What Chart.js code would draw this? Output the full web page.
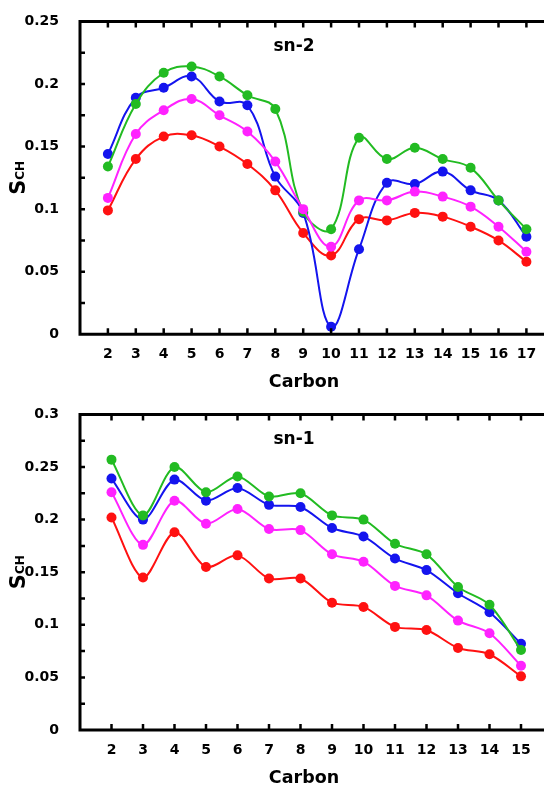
<!DOCTYPE html>
<html>
<head>
<meta charset="utf-8">
<script src="https://cdn.jsdelivr.net/npm/chart.js@4"></script>
<style>
  html, body { margin: 0; padding: 0; background: #fff; overflow: hidden; }
  .wrap { position: absolute; left: 0; width: 544px; overflow: hidden; }
  #top { top: 0; height: 393px; }
  #bottom { top: 393px; height: 394px; }
</style>
</head>
<body>
<div class="wrap" id="top"><canvas id="sn2Chart" width="570" height="393"></canvas></div>
<div class="wrap" id="bottom"><canvas id="sn1Chart" width="570" height="394"></canvas></div>
<script>
// carbon positions
const carbonsSn2 = [2, 3, 4, 5, 6, 7, 8, 9, 10, 11, 12, 13, 14, 15, 16, 17];
const carbonsSn1 = [2, 3, 4, 5, 6, 7, 8, 9, 10, 11, 12, 13, 14, 15];

// order parameters, sn-2 chain
const sn2Green = [0.134, 0.184, 0.209, 0.214, 0.206, 0.191, 0.180, 0.098, 0.084, 0.157, 0.140, 0.149, 0.140, 0.133, 0.107, 0.084];
const sn2Blue = [0.144, 0.189, 0.197, 0.206, 0.186, 0.183, 0.126, 0.097, 0.006, 0.068, 0.121, 0.120, 0.130, 0.115, 0.107, 0.078];
const sn2Magenta = [0.109, 0.160, 0.179, 0.188, 0.175, 0.162, 0.138, 0.100, 0.070, 0.107, 0.107, 0.114, 0.110, 0.102, 0.086, 0.066];
const sn2Red = [0.099, 0.140, 0.158, 0.159, 0.150, 0.136, 0.115, 0.081, 0.063, 0.092, 0.091, 0.097, 0.094, 0.086, 0.075, 0.058];

// order parameters, sn-1 chain
const sn1Green = [0.257, 0.204, 0.250, 0.226, 0.241, 0.222, 0.225, 0.204, 0.200, 0.177, 0.167, 0.136, 0.119, 0.076];
const sn1Blue = [0.239, 0.200, 0.238, 0.218, 0.230, 0.214, 0.212, 0.192, 0.184, 0.163, 0.152, 0.130, 0.112, 0.082];
const sn1Magenta = [0.226, 0.176, 0.218, 0.196, 0.210, 0.191, 0.190, 0.167, 0.160, 0.137, 0.128, 0.104, 0.092, 0.061];
const sn1Red = [0.202, 0.145, 0.188, 0.155, 0.166, 0.144, 0.144, 0.121, 0.117, 0.098, 0.095, 0.078, 0.072, 0.051];

const GREEN = '#22bb22';
const BLUE = '#1414ee';
const MAGENTA = '#ff22ff';
const RED = '#ff1111';
const FONT = '"DejaVu Sans", Verdana, sans-serif';

function series(xs, ys, color, tension) {
  return {
    data: xs.map((x, i) => ({ x, y: ys[i] })),
    borderColor: color,
    backgroundColor: color,
    borderWidth: 2,
    pointRadius: 5,
    pointBorderWidth: 0,
    tension,
  };
}

// frame with inward ticks, panel title, axis titles
const framePlugin = {
  id: 'frame',
  afterDraw(chart, args, opts) {
    const { ctx, chartArea: a, scales: { x, y } } = chart;
    ctx.save();
    ctx.strokeStyle = '#000';
    ctx.lineWidth = 3;
    ctx.beginPath();
    ctx.moveTo(a.right + 20, a.top);
    ctx.lineTo(a.left, a.top);
    ctx.lineTo(a.left, a.bottom);
    ctx.lineTo(a.right + 20, a.bottom);
    ctx.stroke();

    ctx.lineWidth = 2.5;
    ctx.beginPath();
    for (let v = x.min + 1; v < x.max; v += 1) {
      const px = x.getPixelForValue(v);
      ctx.moveTo(px, a.top);
      ctx.lineTo(px, a.top + 6);
      ctx.moveTo(px, a.bottom);
      ctx.lineTo(px, a.bottom - 6);
    }
    const steps = Math.round(y.max / 0.025);
    for (let i = 1; i < steps; i += 1) {
      const py = y.getPixelForValue(i * 0.025);
      ctx.moveTo(a.left, py);
      ctx.lineTo(a.left + 5, py);
    }
    ctx.stroke();

    ctx.fillStyle = '#000';
    ctx.textAlign = 'center';
    ctx.textBaseline = 'middle';
    ctx.font = `bold 17px ${FONT}`;
    ctx.fillText(opts.title, 294, a.top + 25);
    ctx.font = `bold 17.5px ${FONT}`;
    ctx.fillText('Carbon', 304, a.bottom + opts.carbonDy);

    // S_CH, rotated
    const cy = (a.top + a.bottom) / 2;
    ctx.translate(25, cy);
    ctx.rotate(-Math.PI / 2);
    ctx.textAlign = 'left';
    ctx.textBaseline = 'alphabetic';
    ctx.font = `bold 21px ${FONT}`;
    const w1 = ctx.measureText('S').width;
    ctx.font = `bold 12px ${FONT}`;
    const w2 = ctx.measureText('CH').width;
    const start = -(w1 + w2) / 2;
    ctx.font = `bold 21px ${FONT}`;
    ctx.fillText('S', start, 0);
    ctx.font = `bold 12px ${FONT}`;
    ctx.fillText('CH', start + w1, -1.5);
    ctx.restore();
  },
};

function drawPanel(canvasId, xs, green, blue, magenta, red, opts) {
  const ctx = document.getElementById(canvasId);
  // eslint-disable-next-line no-new, no-undef
  new Chart(ctx, {
    type: 'line',
    data: {
      datasets: [
        series(xs, magenta, MAGENTA, opts.tension),
        series(xs, green, GREEN, opts.tension),
        series(xs, blue, BLUE, opts.tension),
        series(xs, red, RED, opts.tension),
      ],
    },
    options: {
      responsive: false,
      animation: false,
      layout: { padding: { top: opts.padTop, right: opts.padRight, left: 0, bottom: 0 } },
      plugins: {
        legend: { display: false },
        tooltip: { enabled: false },
        frame: { title: opts.title, carbonDy: opts.carbonDy },
      },
      scales: {
        x: {
          type: 'linear',
          min: 1,
          max: opts.xMax,
          grid: { display: false },
          border: { display: false },
          ticks: {
            stepSize: 1,
            padding: 4,
            color: '#000',
            autoSkip: false,
            maxRotation: 0,
            font: { family: FONT, size: 14, weight: 'bold' },
            callback: (v) => (v >= 2 && v <= opts.xMax - 1 ? String(v) : ''),
          },
          afterFit: (scale) => { scale.height = opts.xHeight; },
        },
        y: {
          min: 0,
          max: opts.yMax,
          grid: { display: false },
          border: { display: false },
          ticks: {
            stepSize: 0.05,
            padding: 13,
            color: '#000',
            font: { family: FONT, size: 14, weight: 'bold' },
            callback: (v) => String(Number(v.toFixed(2))),
          },
          afterFit: (scale) => { scale.width = 80; },
        },
      },
    },
    plugins: [framePlugin],
  });
}

document.addEventListener('DOMContentLoaded', () => {
  drawPanel('sn2Chart', carbonsSn2, sn2Green, sn2Blue, sn2Magenta, sn2Red, {
    title: 'sn-2', xMax: 18, yMax: 0.25, padTop: 17.5, padRight: 15.7, xHeight: 58.7, carbonDy: 48, tension: 0.4,
  });
  drawPanel('sn1Chart', carbonsSn1, sn1Green, sn1Blue, sn1Magenta, sn1Red, {
    title: 'sn-1', xMax: 16, yMax: 0.3, padTop: 20, padRight: 17.5, xHeight: 57, carbonDy: 48, tension: 0.3,
  });
});
</script>
</body>
</html>
